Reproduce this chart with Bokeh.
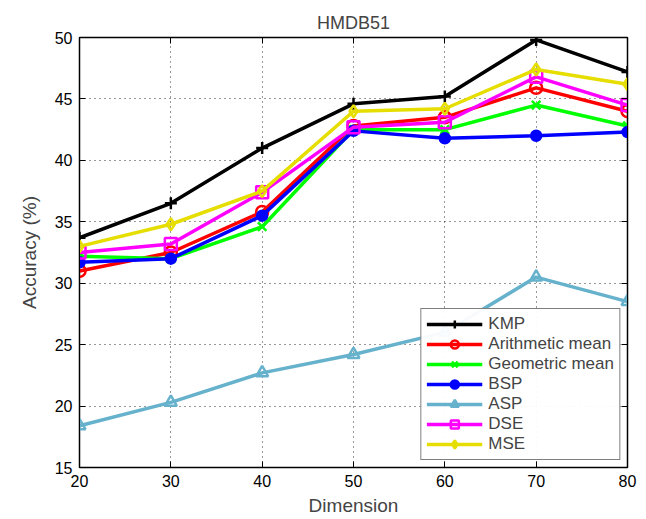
from bokeh.plotting import figure
from bokeh.models import Range1d, LinearAxis, FixedTicker, Legend, LegendItem
from bokeh.embed import file_html
from bokeh.resources import INLINE

dims = [20, 30, 40, 50, 60, 70, 80]
kmp = [33.7, 36.5, 41.0, 44.6, 45.2, 49.8, 47.2]
arith = [31.0, 32.5, 35.8, 42.8, 43.5, 45.9, 44.0]
geom = [32.2, 32.0, 34.6, 42.5, 42.5, 44.5, 42.8]
bsp = [31.7, 32.0, 35.5, 42.4, 41.8, 42.0, 42.3]
asp = [18.4, 20.3, 22.7, 24.2, 26.0, 30.5, 28.5]
dse = [32.5, 33.2, 37.4, 42.7, 43.1, 46.8, 44.5]
mse = [33.0, 34.8, 37.5, 44.0, 44.2, 47.4, 46.2]
x_ticks = [20, 30, 40, 50, 60, 70, 80]
y_ticks = [15, 20, 25, 30, 35, 40, 45, 50]

FONT = "Liberation Sans"

p = figure(frame_width=548, frame_height=430, output_backend="svg", toolbar_location=None,
           x_range=Range1d(20, 80), y_range=Range1d(15, 50),
           min_border_left=79, min_border_right=13, min_border_top=37, min_border_bottom=45)
p.title.text = "HMDB51"
p.title.align = "center"
p.title.text_font = FONT
p.title.text_font_size = "18px"
p.title.text_font_style = "normal"
p.title.offset = 0
p.outline_line_color = "black"
p.outline_line_width = 1.5

for ax in (p.xaxis[0], p.yaxis[0]):
    ax.major_label_text_font = FONT
    ax.major_label_text_font_size = "16px"
    ax.axis_label_text_font = FONT
    ax.axis_label_text_font_size = "19px"
    ax.axis_label_text_font_style = "normal"
    ax.major_tick_in = 6
    ax.major_tick_out = 0
    ax.minor_tick_line_color = None
    ax.axis_line_color = "black"
    ax.major_tick_line_color = "black"
    ax.major_label_text_color = "black"
    ax.major_label_standoff = 7
p.xaxis.ticker = FixedTicker(ticks=x_ticks)
p.yaxis.ticker = FixedTicker(ticks=y_ticks)
p.xaxis.axis_label = "Dimension"
p.yaxis.axis_label = "Accuracy (%)"
p.xaxis.axis_label_standoff = 5
p.yaxis.axis_label_standoff = 12

for loc, tk in (("right", y_ticks), ("above", x_ticks)):
    a = LinearAxis(ticker=FixedTicker(ticks=tk),
                   major_label_overrides={t: "" for t in tk},
                   major_tick_in=6, major_tick_out=0, minor_tick_line_color=None,
                   axis_line_color="black", major_label_standoff=0)
    p.add_layout(a, loc)

p.xgrid.grid_line_color = "black"
p.ygrid.grid_line_color = "black"
p.xgrid.grid_line_dash = "1 4"
p.ygrid.grid_line_dash = "1 4"
p.xgrid.grid_line_alpha = 0.8
p.ygrid.grid_line_alpha = 0.8

series = [
    ("KMP", kmp, "black", "cross", True),
    ("Arithmetic mean", arith, "#FF0000", "circle", False),
    ("Geometric mean", geom, "#00FF00", "x", False),
    ("BSP", bsp, "#0000FF", "circle", True),
    ("ASP", asp, "#66B2CC", "triangle", False),
    ("DSE", dse, "#FF00FF", "square", False),
    ("MSE", mse, "#E6DE00", "diamond", False),
]

items = []
for name, vals, col, mk, filled in series:
    r1 = p.line(dims, vals, line_color=col, line_width=3.5)
    sz = 10 if mk == "circle" and filled else 12
    r2 = p.scatter(dims, vals, marker=mk, size=sz, line_color=col, line_width=2.5,
                   fill_color=col if filled else None)
    items.append(LegendItem(label=name, renderers=[r1, r2]))

legend = Legend(items=items, location="bottom_right")
legend.label_text_font = FONT
legend.label_text_font_size = "17px"
legend.border_line_color = "black"
legend.border_line_width = 1.5
legend.glyph_width = 56
legend.glyph_height = 20
legend.spacing = 0
legend.padding = 5
legend.margin = 7
legend.label_standoff = 6
legend.label_height = 20
p.add_layout(legend, "center")

open("out.html", "w").write(file_html(p, INLINE))
